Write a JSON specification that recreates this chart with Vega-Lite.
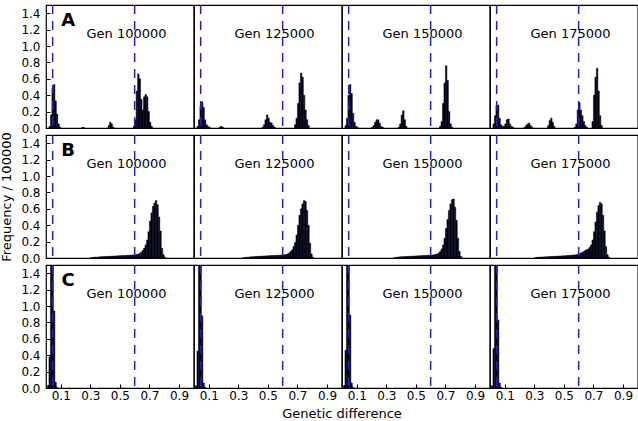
{
"$schema": "https://vega.github.io/schema/vega-lite/v6.json",
"padding": {"left": 0, "top": 3, "right": 1, "bottom": 0},
"background": "white",
"bounds": "flush",
"data": {"values": [
{"p":"A","g":"Gen 100000","lo":0.02,"hi":0.03,"f":0.02},
{"p":"A","g":"Gen 100000","lo":0.03,"hi":0.04,"f":0.16},
{"p":"A","g":"Gen 100000","lo":0.04,"hi":0.05,"f":0.48},
{"p":"A","g":"Gen 100000","lo":0.05,"hi":0.06,"f":0.53},
{"p":"A","g":"Gen 100000","lo":0.06,"hi":0.07,"f":0.33},
{"p":"A","g":"Gen 100000","lo":0.07,"hi":0.08,"f":0.17},
{"p":"A","g":"Gen 100000","lo":0.08,"hi":0.09,"f":0.05},
{"p":"A","g":"Gen 100000","lo":0.09,"hi":0.10,"f":0.01},
{"p":"A","g":"Gen 100000","lo":0.24,"hi":0.25,"f":0.005},
{"p":"A","g":"Gen 100000","lo":0.25,"hi":0.26,"f":0.005},
{"p":"A","g":"Gen 100000","lo":0.42,"hi":0.43,"f":0.03},
{"p":"A","g":"Gen 100000","lo":0.43,"hi":0.44,"f":0.07},
{"p":"A","g":"Gen 100000","lo":0.44,"hi":0.45,"f":0.05},
{"p":"A","g":"Gen 100000","lo":0.45,"hi":0.46,"f":0.01},
{"p":"A","g":"Gen 100000","lo":0.59,"hi":0.60,"f":0.02},
{"p":"A","g":"Gen 100000","lo":0.60,"hi":0.61,"f":0.10},
{"p":"A","g":"Gen 100000","lo":0.61,"hi":0.62,"f":0.45},
{"p":"A","g":"Gen 100000","lo":0.62,"hi":0.63,"f":0.66},
{"p":"A","g":"Gen 100000","lo":0.63,"hi":0.64,"f":0.60},
{"p":"A","g":"Gen 100000","lo":0.64,"hi":0.65,"f":0.35},
{"p":"A","g":"Gen 100000","lo":0.65,"hi":0.66,"f":0.22},
{"p":"A","g":"Gen 100000","lo":0.66,"hi":0.67,"f":0.38},
{"p":"A","g":"Gen 100000","lo":0.67,"hi":0.68,"f":0.41},
{"p":"A","g":"Gen 100000","lo":0.68,"hi":0.69,"f":0.38},
{"p":"A","g":"Gen 100000","lo":0.69,"hi":0.70,"f":0.20},
{"p":"A","g":"Gen 100000","lo":0.70,"hi":0.71,"f":0.07},
{"p":"A","g":"Gen 100000","lo":0.71,"hi":0.72,"f":0.02},

{"p":"A","g":"Gen 125000","lo":0.02,"hi":0.03,"f":0.02},
{"p":"A","g":"Gen 125000","lo":0.03,"hi":0.04,"f":0.10},
{"p":"A","g":"Gen 125000","lo":0.04,"hi":0.05,"f":0.26},
{"p":"A","g":"Gen 125000","lo":0.05,"hi":0.06,"f":0.32},
{"p":"A","g":"Gen 125000","lo":0.06,"hi":0.07,"f":0.25},
{"p":"A","g":"Gen 125000","lo":0.07,"hi":0.08,"f":0.10},
{"p":"A","g":"Gen 125000","lo":0.08,"hi":0.09,"f":0.04},
{"p":"A","g":"Gen 125000","lo":0.09,"hi":0.10,"f":0.02},
{"p":"A","g":"Gen 125000","lo":0.10,"hi":0.11,"f":0.01},
{"p":"A","g":"Gen 125000","lo":0.17,"hi":0.18,"f":0.01},
{"p":"A","g":"Gen 125000","lo":0.18,"hi":0.19,"f":0.02},
{"p":"A","g":"Gen 125000","lo":0.19,"hi":0.20,"f":0.01},
{"p":"A","g":"Gen 125000","lo":0.46,"hi":0.47,"f":0.01},
{"p":"A","g":"Gen 125000","lo":0.47,"hi":0.48,"f":0.04},
{"p":"A","g":"Gen 125000","lo":0.48,"hi":0.49,"f":0.10},
{"p":"A","g":"Gen 125000","lo":0.49,"hi":0.50,"f":0.16},
{"p":"A","g":"Gen 125000","lo":0.50,"hi":0.51,"f":0.12},
{"p":"A","g":"Gen 125000","lo":0.51,"hi":0.52,"f":0.07},
{"p":"A","g":"Gen 125000","lo":0.52,"hi":0.53,"f":0.06},
{"p":"A","g":"Gen 125000","lo":0.53,"hi":0.54,"f":0.03},
{"p":"A","g":"Gen 125000","lo":0.54,"hi":0.55,"f":0.01},
{"p":"A","g":"Gen 125000","lo":0.68,"hi":0.69,"f":0.04},
{"p":"A","g":"Gen 125000","lo":0.69,"hi":0.70,"f":0.12},
{"p":"A","g":"Gen 125000","lo":0.70,"hi":0.71,"f":0.30},
{"p":"A","g":"Gen 125000","lo":0.71,"hi":0.72,"f":0.55},
{"p":"A","g":"Gen 125000","lo":0.72,"hi":0.73,"f":0.67},
{"p":"A","g":"Gen 125000","lo":0.73,"hi":0.74,"f":0.62},
{"p":"A","g":"Gen 125000","lo":0.74,"hi":0.75,"f":0.40},
{"p":"A","g":"Gen 125000","lo":0.75,"hi":0.76,"f":0.22},
{"p":"A","g":"Gen 125000","lo":0.76,"hi":0.77,"f":0.10},
{"p":"A","g":"Gen 125000","lo":0.77,"hi":0.78,"f":0.03},

{"p":"A","g":"Gen 150000","lo":0.02,"hi":0.03,"f":0.03},
{"p":"A","g":"Gen 150000","lo":0.03,"hi":0.04,"f":0.12},
{"p":"A","g":"Gen 150000","lo":0.04,"hi":0.05,"f":0.40},
{"p":"A","g":"Gen 150000","lo":0.05,"hi":0.06,"f":0.53},
{"p":"A","g":"Gen 150000","lo":0.06,"hi":0.07,"f":0.42},
{"p":"A","g":"Gen 150000","lo":0.07,"hi":0.08,"f":0.18},
{"p":"A","g":"Gen 150000","lo":0.08,"hi":0.09,"f":0.07},
{"p":"A","g":"Gen 150000","lo":0.09,"hi":0.10,"f":0.02},
{"p":"A","g":"Gen 150000","lo":0.10,"hi":0.11,"f":0.01},
{"p":"A","g":"Gen 150000","lo":0.20,"hi":0.21,"f":0.01},
{"p":"A","g":"Gen 150000","lo":0.21,"hi":0.22,"f":0.03},
{"p":"A","g":"Gen 150000","lo":0.22,"hi":0.23,"f":0.07},
{"p":"A","g":"Gen 150000","lo":0.23,"hi":0.24,"f":0.10},
{"p":"A","g":"Gen 150000","lo":0.24,"hi":0.25,"f":0.10},
{"p":"A","g":"Gen 150000","lo":0.25,"hi":0.26,"f":0.06},
{"p":"A","g":"Gen 150000","lo":0.26,"hi":0.27,"f":0.02},
{"p":"A","g":"Gen 150000","lo":0.27,"hi":0.28,"f":0.01},
{"p":"A","g":"Gen 150000","lo":0.38,"hi":0.39,"f":0.01},
{"p":"A","g":"Gen 150000","lo":0.39,"hi":0.40,"f":0.05},
{"p":"A","g":"Gen 150000","lo":0.40,"hi":0.41,"f":0.16},
{"p":"A","g":"Gen 150000","lo":0.41,"hi":0.42,"f":0.21},
{"p":"A","g":"Gen 150000","lo":0.42,"hi":0.43,"f":0.10},
{"p":"A","g":"Gen 150000","lo":0.43,"hi":0.44,"f":0.02},
{"p":"A","g":"Gen 150000","lo":0.66,"hi":0.67,"f":0.02},
{"p":"A","g":"Gen 150000","lo":0.67,"hi":0.68,"f":0.08},
{"p":"A","g":"Gen 150000","lo":0.68,"hi":0.69,"f":0.30},
{"p":"A","g":"Gen 150000","lo":0.69,"hi":0.70,"f":0.55},
{"p":"A","g":"Gen 150000","lo":0.70,"hi":0.71,"f":0.76},
{"p":"A","g":"Gen 150000","lo":0.71,"hi":0.72,"f":0.58},
{"p":"A","g":"Gen 150000","lo":0.72,"hi":0.73,"f":0.20},
{"p":"A","g":"Gen 150000","lo":0.73,"hi":0.74,"f":0.05},
{"p":"A","g":"Gen 150000","lo":0.74,"hi":0.75,"f":0.01},

{"p":"A","g":"Gen 175000","lo":0.02,"hi":0.03,"f":0.05},
{"p":"A","g":"Gen 175000","lo":0.03,"hi":0.04,"f":0.15},
{"p":"A","g":"Gen 175000","lo":0.04,"hi":0.05,"f":0.27},
{"p":"A","g":"Gen 175000","lo":0.05,"hi":0.06,"f":0.28},
{"p":"A","g":"Gen 175000","lo":0.06,"hi":0.07,"f":0.12},
{"p":"A","g":"Gen 175000","lo":0.07,"hi":0.08,"f":0.04},
{"p":"A","g":"Gen 175000","lo":0.08,"hi":0.09,"f":0.02},
{"p":"A","g":"Gen 175000","lo":0.09,"hi":0.10,"f":0.02},
{"p":"A","g":"Gen 175000","lo":0.10,"hi":0.11,"f":0.05},
{"p":"A","g":"Gen 175000","lo":0.11,"hi":0.12,"f":0.10},
{"p":"A","g":"Gen 175000","lo":0.12,"hi":0.13,"f":0.11},
{"p":"A","g":"Gen 175000","lo":0.13,"hi":0.14,"f":0.05},
{"p":"A","g":"Gen 175000","lo":0.14,"hi":0.15,"f":0.02},
{"p":"A","g":"Gen 175000","lo":0.15,"hi":0.16,"f":0.01},
{"p":"A","g":"Gen 175000","lo":0.23,"hi":0.24,"f":0.01},
{"p":"A","g":"Gen 175000","lo":0.24,"hi":0.25,"f":0.03},
{"p":"A","g":"Gen 175000","lo":0.25,"hi":0.26,"f":0.05},
{"p":"A","g":"Gen 175000","lo":0.26,"hi":0.27,"f":0.06},
{"p":"A","g":"Gen 175000","lo":0.27,"hi":0.28,"f":0.03},
{"p":"A","g":"Gen 175000","lo":0.28,"hi":0.29,"f":0.01},
{"p":"A","g":"Gen 175000","lo":0.39,"hi":0.40,"f":0.03},
{"p":"A","g":"Gen 175000","lo":0.40,"hi":0.41,"f":0.09},
{"p":"A","g":"Gen 175000","lo":0.41,"hi":0.42,"f":0.12},
{"p":"A","g":"Gen 175000","lo":0.42,"hi":0.43,"f":0.07},
{"p":"A","g":"Gen 175000","lo":0.43,"hi":0.44,"f":0.02},
{"p":"A","g":"Gen 175000","lo":0.57,"hi":0.58,"f":0.01},
{"p":"A","g":"Gen 175000","lo":0.58,"hi":0.59,"f":0.05},
{"p":"A","g":"Gen 175000","lo":0.59,"hi":0.60,"f":0.22},
{"p":"A","g":"Gen 175000","lo":0.60,"hi":0.61,"f":0.31},
{"p":"A","g":"Gen 175000","lo":0.61,"hi":0.62,"f":0.22},
{"p":"A","g":"Gen 175000","lo":0.62,"hi":0.63,"f":0.15},
{"p":"A","g":"Gen 175000","lo":0.63,"hi":0.64,"f":0.08},
{"p":"A","g":"Gen 175000","lo":0.64,"hi":0.65,"f":0.03},
{"p":"A","g":"Gen 175000","lo":0.65,"hi":0.66,"f":0.01},
{"p":"A","g":"Gen 175000","lo":0.69,"hi":0.70,"f":0.08},
{"p":"A","g":"Gen 175000","lo":0.70,"hi":0.71,"f":0.40},
{"p":"A","g":"Gen 175000","lo":0.71,"hi":0.72,"f":0.62},
{"p":"A","g":"Gen 175000","lo":0.72,"hi":0.73,"f":0.73},
{"p":"A","g":"Gen 175000","lo":0.73,"hi":0.74,"f":0.45},
{"p":"A","g":"Gen 175000","lo":0.74,"hi":0.75,"f":0.15},
{"p":"A","g":"Gen 175000","lo":0.75,"hi":0.76,"f":0.03},

{"p":"B","g":"Gen 100000","lo":0.30,"hi":0.31,"f":0.004},
{"p":"B","g":"Gen 100000","lo":0.31,"hi":0.32,"f":0.006},
{"p":"B","g":"Gen 100000","lo":0.32,"hi":0.33,"f":0.008},
{"p":"B","g":"Gen 100000","lo":0.33,"hi":0.34,"f":0.01},
{"p":"B","g":"Gen 100000","lo":0.34,"hi":0.35,"f":0.011},
{"p":"B","g":"Gen 100000","lo":0.35,"hi":0.36,"f":0.012},
{"p":"B","g":"Gen 100000","lo":0.36,"hi":0.37,"f":0.014},
{"p":"B","g":"Gen 100000","lo":0.37,"hi":0.38,"f":0.015},
{"p":"B","g":"Gen 100000","lo":0.38,"hi":0.39,"f":0.016},
{"p":"B","g":"Gen 100000","lo":0.39,"hi":0.40,"f":0.017},
{"p":"B","g":"Gen 100000","lo":0.40,"hi":0.41,"f":0.018},
{"p":"B","g":"Gen 100000","lo":0.41,"hi":0.42,"f":0.019},
{"p":"B","g":"Gen 100000","lo":0.42,"hi":0.43,"f":0.02},
{"p":"B","g":"Gen 100000","lo":0.43,"hi":0.44,"f":0.021},
{"p":"B","g":"Gen 100000","lo":0.44,"hi":0.45,"f":0.022},
{"p":"B","g":"Gen 100000","lo":0.45,"hi":0.46,"f":0.023},
{"p":"B","g":"Gen 100000","lo":0.46,"hi":0.47,"f":0.024},
{"p":"B","g":"Gen 100000","lo":0.47,"hi":0.48,"f":0.025},
{"p":"B","g":"Gen 100000","lo":0.48,"hi":0.49,"f":0.026},
{"p":"B","g":"Gen 100000","lo":0.49,"hi":0.50,"f":0.027},
{"p":"B","g":"Gen 100000","lo":0.50,"hi":0.51,"f":0.028},
{"p":"B","g":"Gen 100000","lo":0.51,"hi":0.52,"f":0.029},
{"p":"B","g":"Gen 100000","lo":0.52,"hi":0.53,"f":0.03},
{"p":"B","g":"Gen 100000","lo":0.53,"hi":0.54,"f":0.031},
{"p":"B","g":"Gen 100000","lo":0.54,"hi":0.55,"f":0.032},
{"p":"B","g":"Gen 100000","lo":0.55,"hi":0.56,"f":0.033},
{"p":"B","g":"Gen 100000","lo":0.56,"hi":0.57,"f":0.034},
{"p":"B","g":"Gen 100000","lo":0.57,"hi":0.58,"f":0.035},
{"p":"B","g":"Gen 100000","lo":0.58,"hi":0.59,"f":0.036},
{"p":"B","g":"Gen 100000","lo":0.59,"hi":0.60,"f":0.038},
{"p":"B","g":"Gen 100000","lo":0.60,"hi":0.61,"f":0.04},
{"p":"B","g":"Gen 100000","lo":0.61,"hi":0.62,"f":0.043},
{"p":"B","g":"Gen 100000","lo":0.62,"hi":0.63,"f":0.047},
{"p":"B","g":"Gen 100000","lo":0.63,"hi":0.64,"f":0.055},
{"p":"B","g":"Gen 100000","lo":0.64,"hi":0.65,"f":0.07},
{"p":"B","g":"Gen 100000","lo":0.65,"hi":0.66,"f":0.09},
{"p":"B","g":"Gen 100000","lo":0.66,"hi":0.67,"f":0.12},
{"p":"B","g":"Gen 100000","lo":0.67,"hi":0.68,"f":0.16},
{"p":"B","g":"Gen 100000","lo":0.68,"hi":0.69,"f":0.22},
{"p":"B","g":"Gen 100000","lo":0.69,"hi":0.70,"f":0.32},
{"p":"B","g":"Gen 100000","lo":0.70,"hi":0.71,"f":0.45},
{"p":"B","g":"Gen 100000","lo":0.71,"hi":0.72,"f":0.55},
{"p":"B","g":"Gen 100000","lo":0.72,"hi":0.73,"f":0.63},
{"p":"B","g":"Gen 100000","lo":0.73,"hi":0.74,"f":0.67},
{"p":"B","g":"Gen 100000","lo":0.74,"hi":0.75,"f":0.70},
{"p":"B","g":"Gen 100000","lo":0.75,"hi":0.76,"f":0.65},
{"p":"B","g":"Gen 100000","lo":0.76,"hi":0.77,"f":0.50},
{"p":"B","g":"Gen 100000","lo":0.77,"hi":0.78,"f":0.33},
{"p":"B","g":"Gen 100000","lo":0.78,"hi":0.79,"f":0.12},
{"p":"B","g":"Gen 100000","lo":0.79,"hi":0.80,"f":0.04},
{"p":"B","g":"Gen 100000","lo":0.80,"hi":0.81,"f":0.01},

{"p":"B","g":"Gen 125000","lo":0.33,"hi":0.34,"f":0.004},
{"p":"B","g":"Gen 125000","lo":0.34,"hi":0.35,"f":0.006},
{"p":"B","g":"Gen 125000","lo":0.35,"hi":0.36,"f":0.008},
{"p":"B","g":"Gen 125000","lo":0.36,"hi":0.37,"f":0.01},
{"p":"B","g":"Gen 125000","lo":0.37,"hi":0.38,"f":0.012},
{"p":"B","g":"Gen 125000","lo":0.38,"hi":0.39,"f":0.014},
{"p":"B","g":"Gen 125000","lo":0.39,"hi":0.40,"f":0.015},
{"p":"B","g":"Gen 125000","lo":0.40,"hi":0.41,"f":0.016},
{"p":"B","g":"Gen 125000","lo":0.41,"hi":0.42,"f":0.017},
{"p":"B","g":"Gen 125000","lo":0.42,"hi":0.43,"f":0.018},
{"p":"B","g":"Gen 125000","lo":0.43,"hi":0.44,"f":0.02},
{"p":"B","g":"Gen 125000","lo":0.44,"hi":0.45,"f":0.021},
{"p":"B","g":"Gen 125000","lo":0.45,"hi":0.46,"f":0.022},
{"p":"B","g":"Gen 125000","lo":0.46,"hi":0.47,"f":0.023},
{"p":"B","g":"Gen 125000","lo":0.47,"hi":0.48,"f":0.024},
{"p":"B","g":"Gen 125000","lo":0.48,"hi":0.49,"f":0.025},
{"p":"B","g":"Gen 125000","lo":0.49,"hi":0.50,"f":0.026},
{"p":"B","g":"Gen 125000","lo":0.50,"hi":0.51,"f":0.027},
{"p":"B","g":"Gen 125000","lo":0.51,"hi":0.52,"f":0.028},
{"p":"B","g":"Gen 125000","lo":0.52,"hi":0.53,"f":0.029},
{"p":"B","g":"Gen 125000","lo":0.53,"hi":0.54,"f":0.03},
{"p":"B","g":"Gen 125000","lo":0.54,"hi":0.55,"f":0.031},
{"p":"B","g":"Gen 125000","lo":0.55,"hi":0.56,"f":0.032},
{"p":"B","g":"Gen 125000","lo":0.56,"hi":0.57,"f":0.033},
{"p":"B","g":"Gen 125000","lo":0.57,"hi":0.58,"f":0.034},
{"p":"B","g":"Gen 125000","lo":0.58,"hi":0.59,"f":0.035},
{"p":"B","g":"Gen 125000","lo":0.59,"hi":0.60,"f":0.036},
{"p":"B","g":"Gen 125000","lo":0.60,"hi":0.61,"f":0.038},
{"p":"B","g":"Gen 125000","lo":0.61,"hi":0.62,"f":0.04},
{"p":"B","g":"Gen 125000","lo":0.62,"hi":0.63,"f":0.044},
{"p":"B","g":"Gen 125000","lo":0.63,"hi":0.64,"f":0.05},
{"p":"B","g":"Gen 125000","lo":0.64,"hi":0.65,"f":0.06},
{"p":"B","g":"Gen 125000","lo":0.65,"hi":0.66,"f":0.08},
{"p":"B","g":"Gen 125000","lo":0.66,"hi":0.67,"f":0.10},
{"p":"B","g":"Gen 125000","lo":0.67,"hi":0.68,"f":0.14},
{"p":"B","g":"Gen 125000","lo":0.68,"hi":0.69,"f":0.19},
{"p":"B","g":"Gen 125000","lo":0.69,"hi":0.70,"f":0.28},
{"p":"B","g":"Gen 125000","lo":0.70,"hi":0.71,"f":0.40},
{"p":"B","g":"Gen 125000","lo":0.71,"hi":0.72,"f":0.52},
{"p":"B","g":"Gen 125000","lo":0.72,"hi":0.73,"f":0.60},
{"p":"B","g":"Gen 125000","lo":0.73,"hi":0.74,"f":0.66},
{"p":"B","g":"Gen 125000","lo":0.74,"hi":0.75,"f":0.70},
{"p":"B","g":"Gen 125000","lo":0.75,"hi":0.76,"f":0.69},
{"p":"B","g":"Gen 125000","lo":0.76,"hi":0.77,"f":0.58},
{"p":"B","g":"Gen 125000","lo":0.77,"hi":0.78,"f":0.40},
{"p":"B","g":"Gen 125000","lo":0.78,"hi":0.79,"f":0.18},
{"p":"B","g":"Gen 125000","lo":0.79,"hi":0.80,"f":0.05},
{"p":"B","g":"Gen 125000","lo":0.80,"hi":0.81,"f":0.01},

{"p":"B","g":"Gen 150000","lo":0.35,"hi":0.36,"f":0.004},
{"p":"B","g":"Gen 150000","lo":0.36,"hi":0.37,"f":0.007},
{"p":"B","g":"Gen 150000","lo":0.37,"hi":0.38,"f":0.01},
{"p":"B","g":"Gen 150000","lo":0.38,"hi":0.39,"f":0.012},
{"p":"B","g":"Gen 150000","lo":0.39,"hi":0.40,"f":0.014},
{"p":"B","g":"Gen 150000","lo":0.40,"hi":0.41,"f":0.015},
{"p":"B","g":"Gen 150000","lo":0.41,"hi":0.42,"f":0.016},
{"p":"B","g":"Gen 150000","lo":0.42,"hi":0.43,"f":0.017},
{"p":"B","g":"Gen 150000","lo":0.43,"hi":0.44,"f":0.018},
{"p":"B","g":"Gen 150000","lo":0.44,"hi":0.45,"f":0.019},
{"p":"B","g":"Gen 150000","lo":0.45,"hi":0.46,"f":0.02},
{"p":"B","g":"Gen 150000","lo":0.46,"hi":0.47,"f":0.021},
{"p":"B","g":"Gen 150000","lo":0.47,"hi":0.48,"f":0.022},
{"p":"B","g":"Gen 150000","lo":0.48,"hi":0.49,"f":0.023},
{"p":"B","g":"Gen 150000","lo":0.49,"hi":0.50,"f":0.024},
{"p":"B","g":"Gen 150000","lo":0.50,"hi":0.51,"f":0.025},
{"p":"B","g":"Gen 150000","lo":0.51,"hi":0.52,"f":0.026},
{"p":"B","g":"Gen 150000","lo":0.52,"hi":0.53,"f":0.027},
{"p":"B","g":"Gen 150000","lo":0.53,"hi":0.54,"f":0.028},
{"p":"B","g":"Gen 150000","lo":0.54,"hi":0.55,"f":0.029},
{"p":"B","g":"Gen 150000","lo":0.55,"hi":0.56,"f":0.03},
{"p":"B","g":"Gen 150000","lo":0.56,"hi":0.57,"f":0.031},
{"p":"B","g":"Gen 150000","lo":0.57,"hi":0.58,"f":0.032},
{"p":"B","g":"Gen 150000","lo":0.58,"hi":0.59,"f":0.033},
{"p":"B","g":"Gen 150000","lo":0.59,"hi":0.60,"f":0.034},
{"p":"B","g":"Gen 150000","lo":0.60,"hi":0.61,"f":0.035},
{"p":"B","g":"Gen 150000","lo":0.61,"hi":0.62,"f":0.037},
{"p":"B","g":"Gen 150000","lo":0.62,"hi":0.63,"f":0.04},
{"p":"B","g":"Gen 150000","lo":0.63,"hi":0.64,"f":0.045},
{"p":"B","g":"Gen 150000","lo":0.64,"hi":0.65,"f":0.05},
{"p":"B","g":"Gen 150000","lo":0.65,"hi":0.66,"f":0.06},
{"p":"B","g":"Gen 150000","lo":0.66,"hi":0.67,"f":0.08},
{"p":"B","g":"Gen 150000","lo":0.67,"hi":0.68,"f":0.11},
{"p":"B","g":"Gen 150000","lo":0.68,"hi":0.69,"f":0.16},
{"p":"B","g":"Gen 150000","lo":0.69,"hi":0.70,"f":0.24},
{"p":"B","g":"Gen 150000","lo":0.70,"hi":0.71,"f":0.36},
{"p":"B","g":"Gen 150000","lo":0.71,"hi":0.72,"f":0.47},
{"p":"B","g":"Gen 150000","lo":0.72,"hi":0.73,"f":0.58},
{"p":"B","g":"Gen 150000","lo":0.73,"hi":0.74,"f":0.66},
{"p":"B","g":"Gen 150000","lo":0.74,"hi":0.75,"f":0.71},
{"p":"B","g":"Gen 150000","lo":0.75,"hi":0.76,"f":0.72},
{"p":"B","g":"Gen 150000","lo":0.76,"hi":0.77,"f":0.62},
{"p":"B","g":"Gen 150000","lo":0.77,"hi":0.78,"f":0.46},
{"p":"B","g":"Gen 150000","lo":0.78,"hi":0.79,"f":0.24},
{"p":"B","g":"Gen 150000","lo":0.79,"hi":0.80,"f":0.08},
{"p":"B","g":"Gen 150000","lo":0.80,"hi":0.81,"f":0.02},

{"p":"B","g":"Gen 175000","lo":0.30,"hi":0.31,"f":0.004},
{"p":"B","g":"Gen 175000","lo":0.31,"hi":0.32,"f":0.006},
{"p":"B","g":"Gen 175000","lo":0.32,"hi":0.33,"f":0.008},
{"p":"B","g":"Gen 175000","lo":0.33,"hi":0.34,"f":0.01},
{"p":"B","g":"Gen 175000","lo":0.34,"hi":0.35,"f":0.011},
{"p":"B","g":"Gen 175000","lo":0.35,"hi":0.36,"f":0.012},
{"p":"B","g":"Gen 175000","lo":0.36,"hi":0.37,"f":0.013},
{"p":"B","g":"Gen 175000","lo":0.37,"hi":0.38,"f":0.014},
{"p":"B","g":"Gen 175000","lo":0.38,"hi":0.39,"f":0.015},
{"p":"B","g":"Gen 175000","lo":0.39,"hi":0.40,"f":0.016},
{"p":"B","g":"Gen 175000","lo":0.40,"hi":0.41,"f":0.017},
{"p":"B","g":"Gen 175000","lo":0.41,"hi":0.42,"f":0.018},
{"p":"B","g":"Gen 175000","lo":0.42,"hi":0.43,"f":0.019},
{"p":"B","g":"Gen 175000","lo":0.43,"hi":0.44,"f":0.02},
{"p":"B","g":"Gen 175000","lo":0.44,"hi":0.45,"f":0.021},
{"p":"B","g":"Gen 175000","lo":0.45,"hi":0.46,"f":0.022},
{"p":"B","g":"Gen 175000","lo":0.46,"hi":0.47,"f":0.023},
{"p":"B","g":"Gen 175000","lo":0.47,"hi":0.48,"f":0.024},
{"p":"B","g":"Gen 175000","lo":0.48,"hi":0.49,"f":0.025},
{"p":"B","g":"Gen 175000","lo":0.49,"hi":0.50,"f":0.026},
{"p":"B","g":"Gen 175000","lo":0.50,"hi":0.51,"f":0.027},
{"p":"B","g":"Gen 175000","lo":0.51,"hi":0.52,"f":0.028},
{"p":"B","g":"Gen 175000","lo":0.52,"hi":0.53,"f":0.03},
{"p":"B","g":"Gen 175000","lo":0.53,"hi":0.54,"f":0.031},
{"p":"B","g":"Gen 175000","lo":0.54,"hi":0.55,"f":0.033},
{"p":"B","g":"Gen 175000","lo":0.55,"hi":0.56,"f":0.034},
{"p":"B","g":"Gen 175000","lo":0.56,"hi":0.57,"f":0.036},
{"p":"B","g":"Gen 175000","lo":0.57,"hi":0.58,"f":0.038},
{"p":"B","g":"Gen 175000","lo":0.58,"hi":0.59,"f":0.04},
{"p":"B","g":"Gen 175000","lo":0.59,"hi":0.60,"f":0.045},
{"p":"B","g":"Gen 175000","lo":0.60,"hi":0.61,"f":0.05},
{"p":"B","g":"Gen 175000","lo":0.61,"hi":0.62,"f":0.06},
{"p":"B","g":"Gen 175000","lo":0.62,"hi":0.63,"f":0.07},
{"p":"B","g":"Gen 175000","lo":0.63,"hi":0.64,"f":0.08},
{"p":"B","g":"Gen 175000","lo":0.64,"hi":0.65,"f":0.09},
{"p":"B","g":"Gen 175000","lo":0.65,"hi":0.66,"f":0.10},
{"p":"B","g":"Gen 175000","lo":0.66,"hi":0.67,"f":0.11},
{"p":"B","g":"Gen 175000","lo":0.67,"hi":0.68,"f":0.13},
{"p":"B","g":"Gen 175000","lo":0.68,"hi":0.69,"f":0.16},
{"p":"B","g":"Gen 175000","lo":0.69,"hi":0.70,"f":0.22},
{"p":"B","g":"Gen 175000","lo":0.70,"hi":0.71,"f":0.32},
{"p":"B","g":"Gen 175000","lo":0.71,"hi":0.72,"f":0.44},
{"p":"B","g":"Gen 175000","lo":0.72,"hi":0.73,"f":0.56},
{"p":"B","g":"Gen 175000","lo":0.73,"hi":0.74,"f":0.64},
{"p":"B","g":"Gen 175000","lo":0.74,"hi":0.75,"f":0.68},
{"p":"B","g":"Gen 175000","lo":0.75,"hi":0.76,"f":0.66},
{"p":"B","g":"Gen 175000","lo":0.76,"hi":0.77,"f":0.52},
{"p":"B","g":"Gen 175000","lo":0.77,"hi":0.78,"f":0.33},
{"p":"B","g":"Gen 175000","lo":0.78,"hi":0.79,"f":0.14},
{"p":"B","g":"Gen 175000","lo":0.79,"hi":0.80,"f":0.04},
{"p":"B","g":"Gen 175000","lo":0.80,"hi":0.81,"f":0.01},

{"p":"C","g":"Gen 100000","lo":0.01,"hi":0.02,"f":0.03},
{"p":"C","g":"Gen 100000","lo":0.02,"hi":0.03,"f":0.38},
{"p":"C","g":"Gen 100000","lo":0.03,"hi":0.04,"f":3.0},
{"p":"C","g":"Gen 100000","lo":0.04,"hi":0.05,"f":3.0},
{"p":"C","g":"Gen 100000","lo":0.05,"hi":0.06,"f":0.94},
{"p":"C","g":"Gen 100000","lo":0.06,"hi":0.07,"f":0.07},
{"p":"C","g":"Gen 100000","lo":0.07,"hi":0.08,"f":0.01},
{"p":"C","g":"Gen 125000","lo":0.01,"hi":0.02,"f":0.03},
{"p":"C","g":"Gen 125000","lo":0.02,"hi":0.03,"f":0.45},
{"p":"C","g":"Gen 125000","lo":0.03,"hi":0.04,"f":3.0},
{"p":"C","g":"Gen 125000","lo":0.04,"hi":0.05,"f":3.0},
{"p":"C","g":"Gen 125000","lo":0.05,"hi":0.06,"f":0.88},
{"p":"C","g":"Gen 125000","lo":0.06,"hi":0.07,"f":0.06},
{"p":"C","g":"Gen 125000","lo":0.07,"hi":0.08,"f":0.01},
{"p":"C","g":"Gen 150000","lo":0.01,"hi":0.02,"f":0.03},
{"p":"C","g":"Gen 150000","lo":0.02,"hi":0.03,"f":0.46},
{"p":"C","g":"Gen 150000","lo":0.03,"hi":0.04,"f":3.0},
{"p":"C","g":"Gen 150000","lo":0.04,"hi":0.05,"f":3.0},
{"p":"C","g":"Gen 150000","lo":0.05,"hi":0.06,"f":0.89},
{"p":"C","g":"Gen 150000","lo":0.06,"hi":0.07,"f":0.06},
{"p":"C","g":"Gen 150000","lo":0.07,"hi":0.08,"f":0.01},
{"p":"C","g":"Gen 175000","lo":0.01,"hi":0.02,"f":0.03},
{"p":"C","g":"Gen 175000","lo":0.02,"hi":0.03,"f":0.48},
{"p":"C","g":"Gen 175000","lo":0.03,"hi":0.04,"f":3.0},
{"p":"C","g":"Gen 175000","lo":0.04,"hi":0.05,"f":3.0},
{"p":"C","g":"Gen 175000","lo":0.05,"hi":0.06,"f":0.83},
{"p":"C","g":"Gen 175000","lo":0.06,"hi":0.07,"f":0.06},
{"p":"C","g":"Gen 175000","lo":0.07,"hi":0.08,"f":0.01}
]},
"facet": {
  "row": {"field": "p", "type": "nominal",
    "header": {"labels": false, "labelPadding": 0, "title": "Frequency / 100000", "titleOrient": "left", "titleFont": "DejaVu Sans", "titleFontSize": 13, "titleFontWeight": "normal", "titleColor": "black", "titlePadding": -4}},
  "column": {"field": "g", "type": "nominal",
    "header": {"labels": false, "labelPadding": 0, "title": "Genetic difference", "titleOrient": "bottom", "titleFont": "DejaVu Sans", "titleFontSize": 13, "titleFontWeight": "normal", "titleColor": "black", "titlePadding": -3}}
},
"spacing": {"row": 7, "column": 0},
"spec": {
  "width": 147.75,
  "height": 123,
  "layer": [
    {"mark": {"type": "bar", "fill": "black", "stroke": "#00002a", "strokeWidth": 0.5, "clip": true},
     "encoding": {
       "x": {"field": "lo", "type": "quantitative", "scale": {"domain": [0, 1], "nice": false, "zero": false},
             "axis": {"title": null, "values": [0.1, 0.3, 0.5, 0.7, 0.9], "tickCount": 50, "format": ".1f", "labelOverlap": false, "labelFlush": false, "labelBound": false}},
       "x2": {"field": "hi"},
       "y": {"field": "f", "type": "quantitative", "scale": {"domain": [0, 1.5], "nice": false},
             "axis": {"title": null, "values": [0, 0.2, 0.4, 0.6, 0.8, 1.0, 1.2, 1.4], "tickCount": 50, "format": ".1f", "labelOverlap": false, "labelFlush": false, "labelBound": false, "labelPadding": 10}},
       "y2": {"datum": 0}
     }},
    {"transform": [{"aggregate": [{"op": "count", "as": "n"}], "groupby": ["p", "g"]}],
     "mark": {"type": "rule", "color": "#2222bb", "strokeWidth": 1.5, "strokeDash": [9, 7]},
     "encoding": {"x": {"datum": 0.045}}},
    {"transform": [{"aggregate": [{"op": "count", "as": "n"}], "groupby": ["p", "g"]}],
     "mark": {"type": "rule", "color": "#2222bb", "strokeWidth": 1.5, "strokeDash": [9, 7]},
     "encoding": {"x": {"datum": 0.6}}},
    {"transform": [{"aggregate": [{"op": "count", "as": "n"}], "groupby": ["p", "g"]}],
     "mark": {"type": "text", "font": "DejaVu Sans", "fontSize": 13, "color": "black"},
     "encoding": {"x": {"datum": 0.545}, "y": {"datum": 1.15}, "text": {"field": "g"}}},
    {"transform": [{"filter": "datum.g == 'Gen 100000'"}, {"aggregate": [{"op": "count", "as": "n"}], "groupby": ["p", "g"]}],
     "mark": {"type": "text", "font": "DejaVu Sans", "fontSize": 18, "fontWeight": "bold", "color": "black"},
     "encoding": {"x": {"datum": 0.15}, "y": {"datum": 1.3}, "text": {"field": "p"}}}
  ]
},
"config": {
  "view": {"stroke": "black", "strokeWidth": 1.2},
  "axis": {"labelFont": "DejaVu Sans", "labelFontSize": 12, "labelColor": "black", "tickColor": "black", "domain": false, "grid": false, "tickSize": -4, "labelPadding": 6, "labelOverlap": false}
}
}
